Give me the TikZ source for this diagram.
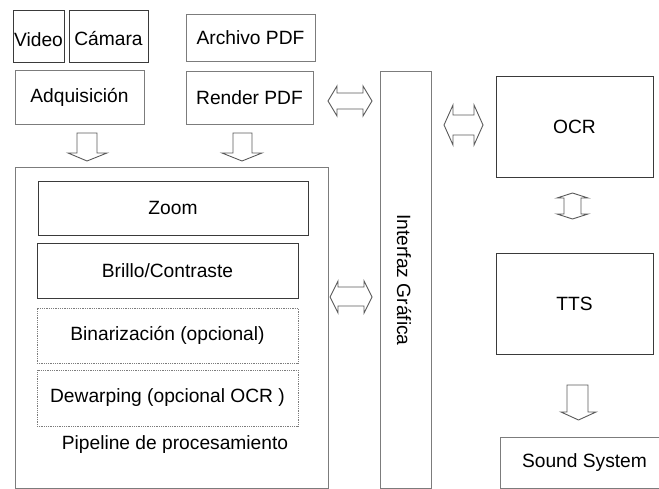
\documentclass[tikz,border=0pt]{standalone}
\usepackage{fontspec}
\setmainfont{Liberation Sans}
\definecolor{dk}{HTML}{3A3A3A}
\definecolor{lt}{HTML}{7C7C7C}
\definecolor{ar}{HTML}{5A5A5A}
\begin{document}
\begin{tikzpicture}[x=1bp,y=-1bp,
  every node/.style={font=\fontsize{19.2bp}{22bp}\selectfont, inner sep=0pt},
  box/.style={draw=lt, line width=0.9bp, rectangle},
  dbox/.style={draw=dk, line width=0.9bp, rectangle},
  optbox/.style={draw=lt, line width=0.8bp, densely dotted, rectangle},
  blk/.style={draw=ar, line width=0.9bp, line join=miter, fill=white}]
\useasboundingbox (0,0) rectangle (659,489);
% top inputs
\node[dbox, minimum width=51bp, minimum height=52bp] (video) at (38.5,36) {};
\node (videolbl) at (38.5,40) {Video};
\node[dbox, minimum width=79bp, minimum height=52bp] (camara) at (108.5,36) {};
\node (camaralbl) at (108.5,39) {Cámara};
\node[box, minimum width=129bp, minimum height=47bp] (archivo) at (250.5,37.5) {Archivo PDF};
\node[box, minimum width=129bp, minimum height=54bp] (adq) at (79.5,97) {Adquisición};
\node[box, minimum width=127bp, minimum height=53bp] (render) at (249.5,97.5) {Render PDF};
% pipeline
\node[box, minimum width=313bp, minimum height=321bp] (pipe) at (171.5,327.5) {};
\node (pipelbl) at (175,445) {Pipeline de procesamiento};
\node[dbox, minimum width=270bp, minimum height=54bp] (zoom) at (173,208) {Zoom};
\node[dbox, minimum width=261bp, minimum height=55bp] (brillo) at (167.5,270.5) {Brillo/Contraste};
\node[optbox, minimum width=261bp, minimum height=55bp] (binar) at (167.5,335.5) {Binarización (opcional)};
\node[optbox, minimum width=261bp, minimum height=56bp] (dewarp) at (167.5,398) {Dewarping (opcional OCR )};
% interface
\node[box, minimum width=51bp, minimum height=417bp] (gui) at (405.5,279.5) {};
\node[rotate=-90] (guilbl) at (404,280) {Interfaz Gráfica};
% right column
\node[dbox, minimum width=157bp, minimum height=101bp] (ocr) at (574.5,126.5) {OCR};
\node[dbox, minimum width=157bp, minimum height=101bp] (tts) at (574.5,303.5) {TTS};
\node[box, minimum width=168bp, minimum height=51bp] (sound) at (584,462.5) {};
\node (soundlbl) at (584.5,463) {Sound System};
% block arrows: down
\draw[blk] (77,133) -- (97,133) -- (97,153) -- (107,153) -- (87,161) -- (68,153) -- (77,153) -- cycle;
\draw[blk] (233,133) -- (252,133) -- (252,153) -- (262,153) -- (242,161) -- (222,153) -- (233,153) -- cycle;
\draw[blk] (567,385) -- (588,385) -- (588,412) -- (596,412) -- (578.5,420) -- (561,412) -- (567,412) -- cycle;
% double arrows horizontal
\draw[blk] (328,101) -- (337,86) -- (337,93) -- (363,93) -- (363,86) -- (372,101) -- (363,116) -- (363,109) -- (337,109) -- (337,116) -- cycle;
\draw[blk] (444,125) -- (453,105) -- (453,115) -- (474,115) -- (474,105) -- (483,125) -- (474,145) -- (474,135) -- (453,135) -- (453,145) -- cycle;
\draw[blk] (330,297) -- (338,281) -- (338,287) -- (364,287) -- (364,281) -- (372,297) -- (364,313) -- (364,306) -- (338,306) -- (338,313) -- cycle;
% double arrow vertical
\draw[blk] (572.5,193) -- (588,198) -- (581,198) -- (581,214) -- (588,214) -- (572.5,219) -- (557,214) -- (564,214) -- (564,198) -- (557,198) -- cycle;
\end{tikzpicture}
\end{document}
